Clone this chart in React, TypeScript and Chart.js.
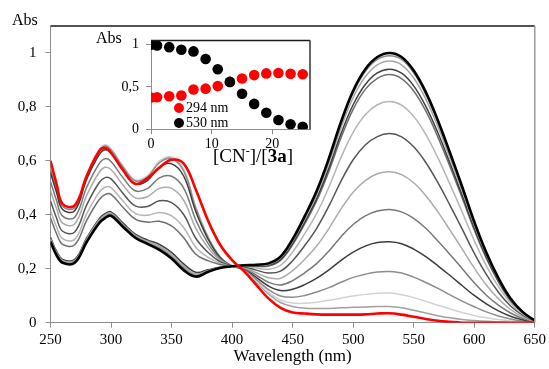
import React, { useEffect, useRef } from "react";
import { Chart, registerables } from "chart.js";

Chart.register(...registerables);

// ---------- main plot data ----------
const wavelengths = [250, 255, 260, 270, 280, 290, 295, 300, 310, 320, 330, 340, 350, 360, 370, 380, 390, 400, 410, 420, 430, 440, 450, 460, 470, 480, 490, 500, 510, 520, 530, 540, 550, 560, 570, 580, 590, 600, 610, 620, 630, 640, 650];

const eq0 = [0.300, 0.250, 0.222, 0.222, 0.300, 0.368, 0.388, 0.396, 0.355, 0.315, 0.292, 0.270, 0.238, 0.195, 0.171, 0.188, 0.203, 0.209,
  0.213, 0.215, 0.220, 0.245, 0.310, 0.395, 0.490, 0.610, 0.745, 0.860, 0.940, 0.985, 1.000, 0.985, 0.935, 0.855, 0.750, 0.630, 0.505, 0.375, 0.260, 0.165, 0.090, 0.040, 0.008];
const eq1 = [0.306, 0.255, 0.226, 0.226, 0.305, 0.373, 0.393, 0.401, 0.360, 0.319, 0.297, 0.277, 0.246, 0.203, 0.176, 0.191, 0.204, 0.209,
  0.213, 0.214, 0.219, 0.243, 0.307, 0.392, 0.486, 0.604, 0.738, 0.852, 0.931, 0.976, 0.990, 0.976, 0.926, 0.847, 0.743, 0.624, 0.500, 0.371, 0.257, 0.163, 0.089, 0.040, 0.008];
const eq3 = [0.311, 0.260, 0.231, 0.230, 0.310, 0.379, 0.399, 0.406, 0.364, 0.324, 0.302, 0.283, 0.253, 0.210, 0.181, 0.193, 0.205, 0.209,
  0.212, 0.213, 0.216, 0.240, 0.302, 0.384, 0.476, 0.592, 0.723, 0.835, 0.912, 0.956, 0.970, 0.956, 0.907, 0.829, 0.727, 0.611, 0.489, 0.363, 0.252, 0.160, 0.087, 0.039, 0.008];
const eq5 = [0.317, 0.265, 0.235, 0.235, 0.315, 0.384, 0.404, 0.411, 0.369, 0.328, 0.307, 0.290, 0.261, 0.218, 0.187, 0.196, 0.206, 0.209,
  0.212, 0.211, 0.213, 0.234, 0.294, 0.373, 0.462, 0.574, 0.701, 0.808, 0.883, 0.926, 0.940, 0.925, 0.878, 0.802, 0.704, 0.591, 0.473, 0.351, 0.244, 0.155, 0.084, 0.038, 0.008];
const eq7 = [0.388, 0.330, 0.290, 0.289, 0.380, 0.455, 0.475, 0.476, 0.427, 0.384, 0.373, 0.376, 0.359, 0.315, 0.254, 0.230, 0.216, 0.209,
  0.212, 0.209, 0.210, 0.231, 0.289, 0.366, 0.453, 0.562, 0.686, 0.791, 0.865, 0.906, 0.920, 0.905, 0.859, 0.785, 0.688, 0.578, 0.463, 0.344, 0.238, 0.151, 0.082, 0.037, 0.007];
const eq9 = [0.416, 0.355, 0.312, 0.309, 0.405, 0.482, 0.502, 0.501, 0.450, 0.405, 0.398, 0.409, 0.396, 0.353, 0.280, 0.243, 0.221, 0.209,
  0.210, 0.203, 0.198, 0.213, 0.262, 0.330, 0.406, 0.503, 0.613, 0.706, 0.771, 0.808, 0.820, 0.807, 0.765, 0.698, 0.611, 0.513, 0.411, 0.305, 0.211, 0.134, 0.073, 0.033, 0.007];
const eq11 = [0.451, 0.388, 0.339, 0.336, 0.438, 0.518, 0.538, 0.533, 0.479, 0.433, 0.431, 0.452, 0.445, 0.401, 0.313, 0.261, 0.226, 0.210,
  0.207, 0.195, 0.184, 0.191, 0.230, 0.286, 0.351, 0.433, 0.525, 0.604, 0.659, 0.690, 0.701, 0.689, 0.652, 0.594, 0.519, 0.435, 0.348, 0.258, 0.179, 0.113, 0.062, 0.028, 0.006];
const eq13 = [0.490, 0.423, 0.369, 0.366, 0.473, 0.556, 0.576, 0.568, 0.510, 0.463, 0.467, 0.498, 0.498, 0.454, 0.350, 0.279, 0.232, 0.210,
  0.205, 0.185, 0.167, 0.165, 0.193, 0.235, 0.285, 0.349, 0.422, 0.484, 0.527, 0.552, 0.560, 0.549, 0.519, 0.471, 0.411, 0.343, 0.274, 0.203, 0.140, 0.089, 0.049, 0.022, 0.004];
const eq15 = [0.523, 0.453, 0.395, 0.391, 0.503, 0.588, 0.608, 0.598, 0.537, 0.489, 0.497, 0.537, 0.543, 0.499, 0.381, 0.295, 0.237, 0.210,
  0.202, 0.176, 0.150, 0.140, 0.156, 0.185, 0.220, 0.266, 0.319, 0.364, 0.396, 0.414, 0.420, 0.411, 0.387, 0.350, 0.303, 0.253, 0.201, 0.148, 0.102, 0.065, 0.036, 0.016, 0.003];
const eq17 = [0.556, 0.483, 0.420, 0.415, 0.533, 0.621, 0.641, 0.628, 0.564, 0.515, 0.527, 0.577, 0.589, 0.544, 0.412, 0.311, 0.242, 0.210,
  0.200, 0.168, 0.136, 0.119, 0.124, 0.141, 0.165, 0.196, 0.231, 0.262, 0.284, 0.297, 0.300, 0.293, 0.273, 0.245, 0.211, 0.175, 0.138, 0.101, 0.070, 0.044, 0.024, 0.011, 0.002];
const eq19 = [0.570, 0.495, 0.431, 0.426, 0.545, 0.635, 0.655, 0.640, 0.576, 0.526, 0.540, 0.593, 0.607, 0.563, 0.425, 0.317, 0.244, 0.210,
  0.198, 0.160, 0.123, 0.099, 0.094, 0.101, 0.114, 0.130, 0.150, 0.168, 0.180, 0.188, 0.190, 0.184, 0.169, 0.149, 0.127, 0.103, 0.080, 0.059, 0.040, 0.025, 0.014, 0.006, 0.001];
const eq21 = [0.575, 0.500, 0.435, 0.430, 0.550, 0.640, 0.660, 0.645, 0.580, 0.530, 0.545, 0.600, 0.615, 0.570, 0.430, 0.320, 0.245, 0.210,
  0.196, 0.155, 0.113, 0.084, 0.073, 0.072, 0.076, 0.083, 0.091, 0.099, 0.105, 0.109, 0.110, 0.104, 0.093, 0.079, 0.065, 0.051, 0.038, 0.027, 0.018, 0.012, 0.006, 0.003, 0.001];
const eq23 = [0.572, 0.498, 0.433, 0.428, 0.548, 0.637, 0.657, 0.643, 0.578, 0.528, 0.542, 0.597, 0.611, 0.566, 0.427, 0.319, 0.245, 0.210,
  0.195, 0.151, 0.107, 0.075, 0.060, 0.054, 0.053, 0.053, 0.055, 0.057, 0.058, 0.060, 0.060, 0.055, 0.046, 0.036, 0.026, 0.018, 0.012, 0.008, 0.005, 0.003, 0.002, 0.001, 0.000];
const eq25 = [0.600, 0.515, 0.440, 0.435, 0.545, 0.635, 0.648, 0.630, 0.565, 0.515, 0.535, 0.575, 0.604, 0.590, 0.494, 0.380, 0.290, 0.232,
  0.190, 0.140, 0.090, 0.055, 0.038, 0.034, 0.031, 0.030, 0.030, 0.030, 0.031, 0.034, 0.035, 0.030, 0.022, 0.014, 0.007, 0.003, 0.000, 0.000, 0.000, 0.000, 0.000, 0.000, 0.000];

const mainXTicks = [250, 300, 350, 400, 450, 500, 550, 600, 650];
const mainYTicks = [0, 0.2, 0.4, 0.6, 0.8, 1];

// ---------- inset data ----------
const cnEquiv = [0, 1, 3, 5, 7, 9, 11, 13, 15, 17, 19, 21, 23, 25];
const abs294 = [0.375, 0.378, 0.39, 0.40, 0.47, 0.48, 0.51, 0.56, 0.60, 0.64, 0.66, 0.665, 0.655, 0.65];
const abs530 = [1.0, 0.99, 0.97, 0.94, 0.92, 0.83, 0.71, 0.56, 0.42, 0.30, 0.195, 0.11, 0.06, 0.03];
const insetXTicks = [0, 10, 20];
const insetYTicks = [0, 0.5, 1];

const FONT = "'Liberation Serif', 'Times New Roman', serif";

// drawing order: first dataset is drawn on top
const spectra = [
  { values: eq25, color: "#ff0000", width: 2.6 },
  { values: eq0, color: "#000000", width: 2.6 },
  { values: eq1, color: "#8a8a8a", width: 1.5 },
  { values: eq3, color: "#a6a6a6", width: 1.5 },
  { values: eq5, color: "#404040", width: 1.5 },
  { values: eq7, color: "#6e6e6e", width: 1.5 },
  { values: eq9, color: "#b5b5b5", width: 1.5 },
  { values: eq11, color: "#555555", width: 1.5 },
  { values: eq13, color: "#ababab", width: 1.5 },
  { values: eq15, color: "#787878", width: 1.5 },
  { values: eq17, color: "#3c3c3c", width: 1.5 },
  { values: eq19, color: "#8c8c8c", width: 1.5 },
  { values: eq21, color: "#d2d2d2", width: 1.5 },
  { values: eq23, color: "#a0a0a0", width: 1.5 },
];

const fmt = (v: number) => String(Math.round(v * 10) / 10).replace(".", ",");

const framePlugin = (topColor: string, rightColor: string, w: number) => ({
  id: "frame",
  afterDraw(chart: any) {
    const { ctx, chartArea } = chart;
    const { left, right, top, bottom } = chartArea;
    ctx.save();
    ctx.lineWidth = w;
    ctx.strokeStyle = topColor;
    ctx.beginPath();
    ctx.moveTo(left, top);
    ctx.lineTo(right, top);
    ctx.stroke();
    ctx.strokeStyle = rightColor;
    ctx.beginPath();
    ctx.moveTo(right, top);
    ctx.lineTo(right, bottom);
    ctx.stroke();
    ctx.restore();
  },
});

function MainChart() {
  const ref = useRef<HTMLCanvasElement>(null);
  useEffect(() => {
    if (!ref.current) return;
    const chart = new Chart(ref.current, {
      type: "line",
      data: {
        datasets: spectra.map((s) => ({
          data: wavelengths.map((x, i) => ({ x, y: s.values[i] })),
          borderColor: s.color,
          borderWidth: s.width,
          pointRadius: 0,
          fill: false,
          tension: 0.4,
        })),
      },
      options: {
        animation: false,
        responsive: false,
        maintainAspectRatio: false,
        layout: { padding: { top: 26, right: 11.5, left: 0, bottom: 0 } },
        plugins: { legend: { display: false }, tooltip: { enabled: false } },
        scales: {
          x: {
            type: "linear",
            min: 250,
            max: 650,
            afterBuildTicks: (s: any) => {
              s.ticks = mainXTicks.map((v) => ({ value: v }));
            },
            ticks: { font: { family: FONT, size: 15 }, color: "#000", padding: 3, maxRotation: 0, autoSkip: false },
            grid: { drawOnChartArea: false, tickLength: 5, color: "#8c8c8c" },
            border: { color: "#8c8c8c", width: 1 },
            title: { display: true, text: "Wavelength (nm)", font: { family: FONT, size: 17 }, color: "#000", padding: { top: 0, bottom: 2 } },
            afterFit: (s: any) => {
              s.height = 46.3;
            },
          },
          y: {
            type: "linear",
            min: 0,
            max: 1.1,
            afterBuildTicks: (s: any) => {
              s.ticks = mainYTicks.map((v) => ({ value: v }));
            },
            ticks: { font: { family: FONT, size: 15 }, color: "#000", padding: 9, callback: (v: any) => fmt(Number(v)), autoSkip: false },
            grid: { drawOnChartArea: false, tickLength: 5, color: "#8c8c8c" },
            border: { color: "#8c8c8c", width: 1 },
            afterFit: (s: any) => {
              s.width = 50.5;
            },
          },
        },
      },
      plugins: [framePlugin("#1a1a1a", "#999999", 1.5)],
    });
    return () => chart.destroy();
  }, []);
  return <canvas ref={ref} width={549} height={369} style={{ position: "absolute", left: 0, top: 0, width: 549, height: 369 }} />;
}

function InsetChart() {
  const ref = useRef<HTMLCanvasElement>(null);
  useEffect(() => {
    if (!ref.current) return;
    const chart = new Chart(ref.current, {
      type: "scatter",
      data: {
        datasets: [
          {
            data: cnEquiv.map((x, i) => ({ x, y: abs530[i] })),
            backgroundColor: "#000000",
            borderWidth: 0,
            pointRadius: 5.3,
            showLine: false,
          },
          {
            data: cnEquiv.map((x, i) => ({ x, y: abs294[i] })),
            backgroundColor: "#ff0000",
            borderWidth: 0,
            pointRadius: 5.3,
            showLine: false,
          },
        ],
      },
      options: {
        animation: false,
        responsive: false,
        maintainAspectRatio: false,
        layout: { padding: { top: 15, right: 10, left: 0, bottom: 0 } },
        plugins: { legend: { display: false }, tooltip: { enabled: false } },
        scales: {
          x: {
            type: "linear",
            min: 0,
            max: 26.2,
            afterBuildTicks: (s: any) => {
              s.ticks = insetXTicks.map((v) => ({ value: v }));
            },
            ticks: { font: { family: FONT, size: 14 }, color: "#000", padding: 2, maxRotation: 0, autoSkip: false },
            grid: { drawOnChartArea: false, tickLength: 5, color: "#8c8c8c" },
            border: { color: "#8c8c8c", width: 1 },
            afterFit: (s: any) => {
              s.height = 25.7;
            },
          },
          y: {
            type: "linear",
            min: 0,
            max: 1.05,
            afterBuildTicks: (s: any) => {
              s.ticks = insetYTicks.map((v) => ({ value: v }));
            },
            ticks: { font: { family: FONT, size: 14 }, color: "#000", padding: 7, callback: (v: any) => fmt(Number(v)), autoSkip: false },
            grid: { drawOnChartArea: false, tickLength: 5, color: "#8c8c8c" },
            border: { color: "#8c8c8c", width: 1 },
            afterFit: (s: any) => {
              s.width = 61;
            },
          },
        },
      },
      plugins: [framePlugin("#1a1a1a", "#333333", 1.5)],
    });
    return () => chart.destroy();
  }, []);
  return <canvas ref={ref} width={230} height={130} style={{ position: "absolute", left: 90, top: 25, width: 230, height: 130 }} />;
}

const textBase: React.CSSProperties = { position: "absolute", fontFamily: FONT, color: "#000", whiteSpace: "nowrap", lineHeight: 1 };

export default function App() {
  return (
    <div style={{ position: "fixed", left: 0, top: 0, width: 549, height: 369, background: "#fff", overflow: "hidden" }}>
      <MainChart />
      <InsetChart />
      <div style={{ ...textBase, left: 12, top: 12, fontSize: 16 }}>Abs</div>
      <div style={{ ...textBase, left: 96, top: 30, fontSize: 16 }}>Abs</div>
      <div style={{ ...textBase, left: 174, top: 101, fontSize: 14, display: "flex", alignItems: "center" }}>
        <span style={{ display: "inline-block", width: 10, height: 10, borderRadius: 5, background: "#ff0000", marginRight: 2 }} />
        <span>294 nm</span>
      </div>
      <div style={{ ...textBase, left: 174, top: 115.5, fontSize: 14, display: "flex", alignItems: "center" }}>
        <span style={{ display: "inline-block", width: 10, height: 10, borderRadius: 5, background: "#000000", marginRight: 2 }} />
        <span>530 nm</span>
      </div>
      <div style={{ ...textBase, left: 213, top: 146, fontSize: 19 }}>
        [CN<sup style={{ fontSize: 12, verticalAlign: "top", position: "relative", top: -1 }}>-</sup>]/[<b>3a</b>]
      </div>
    </div>
  );
}
